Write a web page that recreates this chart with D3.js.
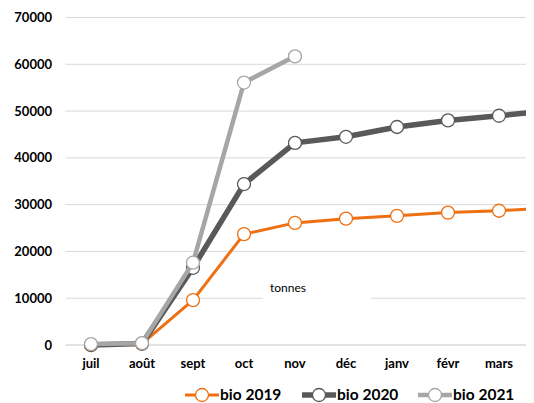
<!DOCTYPE html>
<html>
<head>
<meta charset="utf-8">
<script src="https://cdn.jsdelivr.net/npm/d3@7"></script>
<style>
  body { margin: 0; background: #fff; }
  text { font-family: Lato, "Liberation Sans", sans-serif; }
</style>
</head>
<body>
<svg id="chart" width="534" height="403"></svg>
<script>
// months (avr is past the right edge, only its line segment shows)
var months = ['juil', 'août', 'sept', 'oct', 'nov', 'déc', 'janv', 'févr', 'mars', 'avr'];
var yTicks = [0, 10000, 20000, 30000, 40000, 50000, 60000, 70000];

var bio2019 = [0, 300, 9600, 23700, 26100, 27000, 27600, 28300, 28700, 29300];
var bio2020 = [0, 300, 16500, 34400, 43200, 44500, 46600, 48000, 49000, 50100];
var bio2021 = [200, 400, 17600, 56100, 61700];

var series = [
  { name: 'bio 2019', values: bio2019, color: '#ee7012', width: 3 },
  { name: 'bio 2020', values: bio2020, color: '#595959', width: 5.5 },
  { name: 'bio 2021', values: bio2021, color: '#a6a6a6', width: 4.5 }
];

var svg = d3.select('#chart');
var left = 65.5, right = 526;

var x = d3.scaleBand().domain(months).range([left, left + 51 * months.length]);
var y = d3.scaleLinear().domain([0, 70000]).range([345, 17.5]);
function cx(m) { return x(m) + x.bandwidth() / 2; }

// gridlines
svg.append('g').selectAll('line')
  .data(yTicks)
  .enter().append('line')
    .attr('x1', left).attr('x2', right)
    .attr('y1', function(d) { return y(d); })
    .attr('y2', function(d) { return y(d); })
    .attr('stroke', '#d9d9d9')
    .attr('stroke-width', function(d) { return d === 0 ? 1.5 : 1; });

// y labels
svg.append('g').selectAll('text')
  .data(yTicks)
  .enter().append('text')
    .attr('x', 52).attr('y', function(d) { return y(d); })
    .attr('dy', '0.35em')
    .attr('text-anchor', 'end')
    .attr('font-size', 13).attr('font-weight', 'bold')
    .attr('fill', '#000')
    .text(function(d) { return d; });

// x labels
svg.append('g').selectAll('text')
  .data(months.slice(0, 9))
  .enter().append('text')
    .attr('x', function(d) { return cx(d); })
    .attr('y', 363).attr('dy', '0.35em')
    .attr('text-anchor', 'middle')
    .attr('font-size', 13).attr('font-weight', 'bold')
    .attr('fill', '#000')
    .text(function(d) { return d; });

// "tonnes" box sits over the 10000 gridline
svg.append('rect')
  .attr('x', 263).attr('y', 276).attr('width', 108).attr('height', 24)
  .attr('fill', '#fff');
svg.append('text')
  .attr('x', 270).attr('y', 288).attr('dy', '0.35em')
  .attr('font-family', '"Liberation Sans", Arial, sans-serif')
  .attr('font-size', 12).attr('fill', '#000')
  .text('tonnes');

svg.append('clipPath').attr('id', 'plot')
  .append('rect').attr('x', left).attr('y', 0).attr('width', right - left).attr('height', 403);

var line = d3.line()
  .x(function(d, i) { return cx(months[i]); })
  .y(function(d) { return y(d); });

var g = svg.append('g').attr('clip-path', 'url(#plot)');
series.forEach(function(s) {
  g.append('path')
    .attr('d', line(s.values))
    .attr('fill', 'none')
    .attr('stroke', s.color)
    .attr('stroke-width', s.width)
    .attr('stroke-linejoin', 'round');
  g.selectAll(null)
    .data(s.values.slice(0, 9))
    .enter().append('circle')
      .attr('cx', function(d, i) { return cx(months[i]); })
      .attr('cy', function(d) { return y(d); })
      .attr('r', 6.5)
      .attr('fill', '#fff')
      .attr('stroke', s.color)
      .attr('stroke-width', 1.3);
});

// legend
var legendX = [185, 302, 418];
var leg = svg.append('g').selectAll('g')
  .data(series)
  .enter().append('g')
    .attr('transform', function(d, i) { return 'translate(' + legendX[i] + ',395)'; });
leg.append('line')
  .attr('x1', 0).attr('x2', 34)
  .attr('stroke', function(d) { return d.color; })
  .attr('stroke-width', function(d) { return d.width; });
leg.append('circle')
  .attr('cx', 17).attr('r', 6.5)
  .attr('fill', '#fff')
  .attr('stroke', function(d) { return d.color; })
  .attr('stroke-width', 1.3);
leg.append('text')
  .attr('x', 35).attr('dy', '0.35em')
  .attr('font-family', '"Liberation Sans", Arial, sans-serif')
  .attr('font-size', 15.5).attr('font-weight', 'bold')
  .attr('fill', '#000')
  .text(function(d) { return d.name; });
</script>
</body>
</html>
